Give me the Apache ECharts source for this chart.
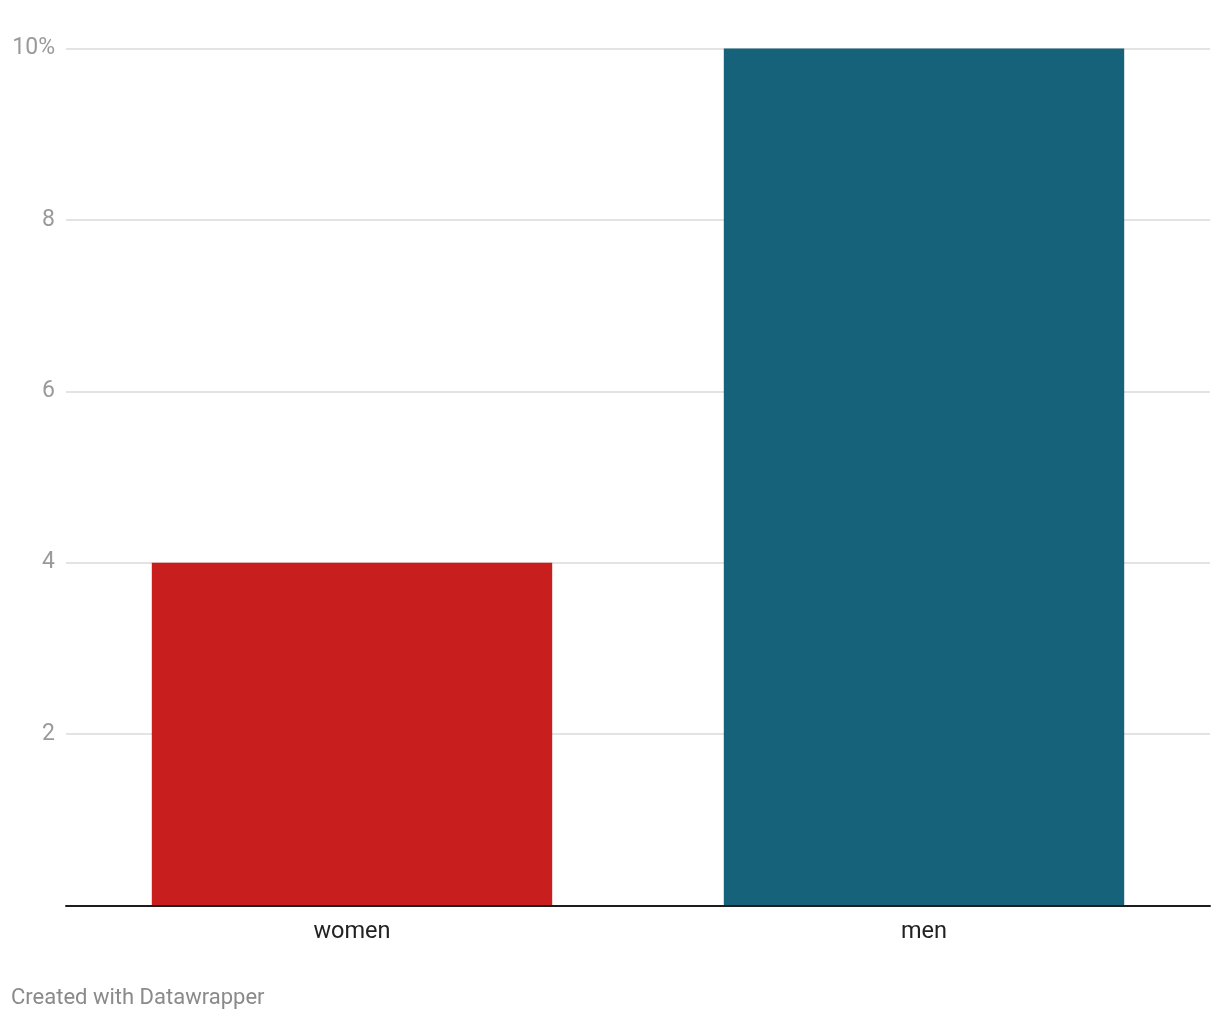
<!DOCTYPE html>
<html>
<head>
<meta charset="utf-8">
<style>
  html, body { margin: 0; padding: 0; background: #fff; }
  #chart { width: 1220px; height: 1020px; }
</style>
<script src="https://cdn.jsdelivr.net/npm/echarts@6/dist/echarts.min.js"></script>
</head>
<body>
<div id="chart"></div>
<script>
const categories = ['women', 'men'];
const values = [4, 10];
const barColors = ['#c91e1e', '#17627b'];
const yTicks = [0, 2, 4, 6, 8, 10];

const chart = echarts.init(document.getElementById('chart'), null, { renderer: 'canvas' });
chart.setOption({
  backgroundColor: '#ffffff',
  animation: false,
  textStyle: { fontFamily: 'Roboto' },
  grid: { left: 66, right: 10, top: 48.5, bottom: 114.5, containLabel: false },
  xAxis: {
    type: 'category',
    data: categories,
    axisLine: { show: true, lineStyle: { color: '#1d1d1d', width: 2 } },
    axisTick: { show: false },
    axisLabel: { color: '#222222', fontSize: 23.5, fontFamily: 'Roboto', margin: 15 },
    z: 10
  },
  yAxis: {
    type: 'value',
    min: 0,
    max: 10,
    interval: 2,
    axisLine: { show: false },
    axisTick: { show: false },
    splitLine: { show: true, lineStyle: { color: '#e3e3e3', width: 2 } },
    axisLabel: {
      color: '#9a9a9a',
      fontSize: 23,
      fontFamily: 'Roboto',
      margin: 11,
      formatter: function (v) {
        if (v === 0) return '';
        return v === yTicks[yTicks.length - 1] ? v + '%' : String(v);
      }
    }
  },
  series: [{
    type: 'bar',
    data: values.map((v, i) => ({ value: v, itemStyle: { color: barColors[i] } })),
    barWidth: '70%'
  }],
  graphic: [{
    type: 'text',
    left: 11,
    top: 987,
    style: {
      text: 'Created with Datawrapper',
      fill: '#8a8a8a',
      font: '22px Roboto'
    }
  }]
});
</script>
</body>
</html>
